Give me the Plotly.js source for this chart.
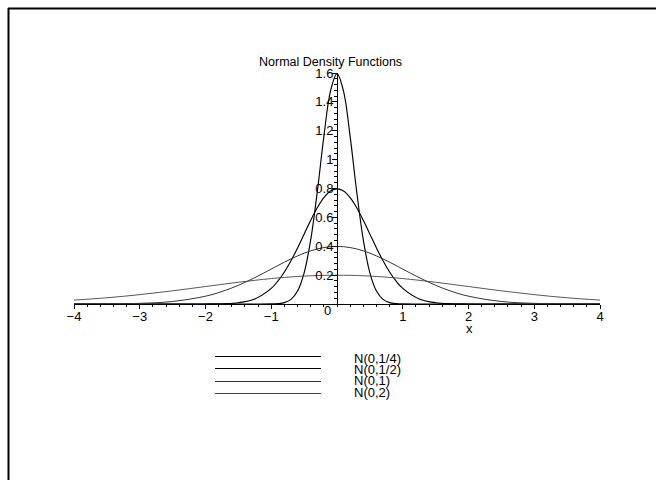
<!DOCTYPE html>
<html>
<head>
<meta charset="utf-8">
<script src="https://cdn.plot.ly/plotly-3.0.1.min.js"></script>
<style>html,body{margin:0;padding:0;background:#fff}#chart{width:656px;height:480px}</style>
</head>
<body>
<div id="chart"></div>
<script>
// ---- data ----
var titleText = "Normal Density Functions";
var xLabel = "x";
var seriesNames = ["N(0,1/4)", "N(0,1/2)", "N(0,1)", "N(0,2)"];
var xs = [-4,-3.5,-3,-2.5,-2,-1.75,-1.5,-1.25,-1,-0.9,-0.8,-0.7,-0.6,-0.5,-0.4,-0.3,-0.2,-0.1,0,0.1,0.2,0.3,0.4,0.5,0.6,0.7,0.8,0.9,1,1.25,1.5,1.75,2,2.5,3,3.5,4];
var yQuarter = [0,0,0,0,0,0,0,0,0.0005,0.0024,0.0095,0.0317,0.0896,0.2160,0.4437,0.7767,1.1588,1.4731,1.5958,1.4731,1.1588,0.7767,0.4437,0.2160,0.0896,0.0317,0.0095,0.0024,0.0005,0,0,0,0,0,0,0,0];
var yHalf = [0,0,0,0,0.0003,0.0017,0.0089,0.0351,0.1080,0.1579,0.2218,0.2995,0.3884,0.4839,0.5794,0.6664,0.7365,0.7821,0.7979,0.7821,0.7365,0.6664,0.5794,0.4839,0.3884,0.2995,0.2218,0.1579,0.1080,0.0351,0.0089,0.0017,0.0003,0,0,0,0];
var yOne = [0.0001,0.0009,0.0044,0.0175,0.0540,0.0863,0.1295,0.1826,0.2420,0.2661,0.2897,0.3123,0.3332,0.3521,0.3683,0.3814,0.3910,0.3970,0.3989,0.3970,0.3910,0.3814,0.3683,0.3521,0.3332,0.3123,0.2897,0.2661,0.2420,0.1826,0.1295,0.0863,0.0540,0.0175,0.0044,0.0009,0.0001];
var yTwo = [0.0270,0.0431,0.0648,0.0913,0.1210,0.1360,0.1506,0.1641,0.1760,0.1803,0.1841,0.1876,0.1907,0.1933,0.1955,0.1972,0.1985,0.1992,0.1995,0.1992,0.1985,0.1972,0.1955,0.1933,0.1907,0.1876,0.1841,0.1803,0.1760,0.1641,0.1506,0.1360,0.1210,0.0913,0.0648,0.0431,0.0270];
var xTickVals = [-4,-3,-2,-1,1,2,3,4];
var xTickText = ["\u22124","\u22123","\u22122","\u22121","1","2","3","4"];
var yTickVals = [0.2,0.4,0.6,0.8,1,1.2,1.4,1.6];
var yTickText = ["0.2","0.4","0.6","0.8","1","1.2","1.4","1.6"];

// ---- styling ----
var W = 656, H = 480;
var M = {l: 74, r: 56, t: 73, b: 176};
var PW = W - M.l - M.r, PH = H - M.t - M.b;
function px(x) { return (x - M.l) / PW; }
function py(y) { return (H - M.b - y) / PH; }
var FONT = "Liberation Sans, Arial, Helvetica, sans-serif";
var colors = ["#000000", "#000000", "#333333", "#444444"];
var widths = [1.15, 1.15, 1, 0.9];
var ySeries = [yQuarter, yHalf, yOne, yTwo];

var traces = ySeries.map(function (ys, i) {
  return {
    x: xs, y: ys, type: "scatter", mode: "lines", name: seriesNames[i],
    line: {color: colors[i], width: widths[i], shape: "spline", smoothing: 1},
    cliponaxis: false, hoverinfo: "skip"
  };
});

var shapes = [
  // frame edges (top and left)
  {type: "line", xref: "paper", yref: "paper", x0: px(8), x1: px(656), y0: py(8.5), y1: py(8.5), line: {color: "#000", width: 2}},
  {type: "line", xref: "paper", yref: "paper", x0: px(8.5), x1: px(8.5), y0: py(8), y1: py(480), line: {color: "#000", width: 2}}
];
var legLineY = [356.5, 368.5, 381.5, 393.5];
var legTextY = [358.3, 369.6, 380.9, 392.2];
var annotations = [
  {text: titleText, xref: "paper", yref: "paper", x: px(330), y: py(61.5), xanchor: "center", yanchor: "middle", showarrow: false, font: {family: FONT, size: 12.5, color: "#000"}},
  {text: xLabel, xref: "paper", yref: "paper", x: px(469), y: py(328), xanchor: "center", yanchor: "middle", showarrow: false, font: {family: FONT, size: 13, color: "#000"}},
  {text: "0", xref: "paper", yref: "paper", x: px(327.5), y: py(310), xanchor: "center", yanchor: "middle", showarrow: false, font: {family: FONT, size: 13, color: "#000"}}
];
seriesNames.forEach(function (n, i) {
  shapes.push({type: "line", xref: "paper", yref: "paper", x0: px(215), x1: px(321), y0: py(legLineY[i]), y1: py(legLineY[i]), line: {color: colors[i], width: 1}});
  annotations.push({text: n, xref: "paper", yref: "paper", x: px(352), y: py(legTextY[i]), xanchor: "left", yanchor: "middle", showarrow: false, font: {family: FONT, size: 13, color: "#000"}});
});

var layout = {
  width: W, height: H, margin: M,
  paper_bgcolor: "#fff", plot_bgcolor: "rgba(0,0,0,0)",
  showlegend: false,
  font: {family: FONT, size: 13, color: "#000"},
  xaxis: {
    range: [-4, 4], showgrid: false, zeroline: false,
    showline: true, linecolor: "#000", linewidth: 1,
    tickmode: "array", tickvals: xTickVals, ticktext: xTickText,
    ticks: "outside", ticklen: 4, tickcolor: "#000", tickwidth: 1,
    ticklabelstandoff: -4,
    minor: {tickmode: "linear", tick0: 0, dtick: 0.2, ticks: "outside", ticklen: 2, tickcolor: "#000", showgrid: false},
    tickfont: {family: FONT, size: 13, color: "#000"}
  },
  yaxis: {
    range: [0, 1.6], showgrid: false, zeroline: false,
    anchor: "free", position: 0.5, side: "left",
    showline: true, linecolor: "#000", linewidth: 1,
    tickmode: "array", tickvals: yTickVals, ticktext: yTickText,
    ticks: "outside", ticklen: 5, tickcolor: "#000", tickwidth: 1,
    ticklabelstandoff: -4,
    minor: {tickmode: "linear", tick0: 0, dtick: 0.04, ticks: "outside", ticklen: 3, tickcolor: "#000", showgrid: false},
    tickfont: {family: FONT, size: 13, color: "#000"}
  },
  shapes: shapes,
  annotations: annotations
};

Plotly.newPlot("chart", traces, layout, {staticPlot: true, displayModeBar: false});
</script>
</body>
</html>
